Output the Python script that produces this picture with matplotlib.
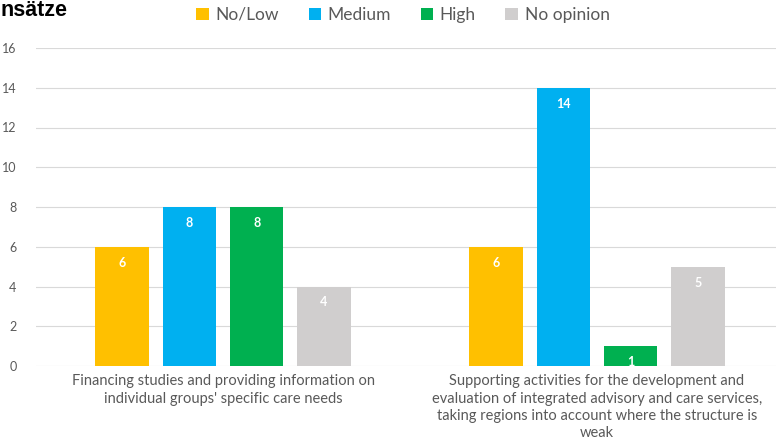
import matplotlib.pyplot as plt
import numpy as np

categories = ["Financing studies and providing information on\nindividual groups' specific care needs",
              "Supporting activities for the development and\nevaluation of integrated advisory and care services,\ntaking regions into account where the structure is\nweak"]
series = ['No/Low', 'Medium', 'High', 'No opinion']
no_low = [6, 6]
medium = [8, 14]
high = [8, 1]
no_opinion = [4, 5]
colors = ['#FFC000', '#00B0F0', '#00B050', '#D0CECE']

plt.rcParams['font.family'] = ['Lato', 'DejaVu Sans']

fig = plt.figure(figsize=(7.76, 4.45), dpi=100)
ax = fig.add_axes([36/776, 79/445, 748/776, 318/445])

x = np.arange(len(categories))
w = 0.142
step = 0.18
vals = [no_low, medium, high, no_opinion]
for i, (name, v, c) in enumerate(zip(series, vals, colors)):
    pos = x + (i - 1.5) * step
    ax.bar(pos, v, w, color=c, label=name, zorder=3)
    for p, val in zip(pos, v):
        ax.text(p, val - 0.8, str(val), ha='center', va='center',
                color='white', fontsize=9, fontweight='bold', zorder=4)

ax.set_xlim(-0.5, 1.5)
ax.set_ylim(0, 16)
ax.set_yticks(range(0, 17, 2))
ax.set_xticks(x)
ax.set_xticklabels(categories, fontsize=10.5, color='#595959', linespacing=1.3)
ax.tick_params(axis='y', labelsize=9, labelcolor='#595959', length=0, pad=14)
ax.tick_params(axis='x', length=0, pad=6)
ax.grid(axis='y', color='#D9D9D9', linewidth=0.8, zorder=0)
for s in ax.spines.values():
    s.set_visible(False)

fig.legend(loc='center', ncol=4, bbox_to_anchor=(403/776, 1 - 15/445),
           frameon=False, fontsize=12.5, handlelength=0.7, handleheight=0.7,
           handletextpad=0.4, columnspacing=1.7, labelcolor='#595959')

fig.text(0.0, 1 - 11/445, 'nsätze', fontsize=15.5, fontweight='bold',
         ha='left', va='center', family=['Liberation Sans', 'DejaVu Sans'])

fig.savefig('out.png', dpi=100)
